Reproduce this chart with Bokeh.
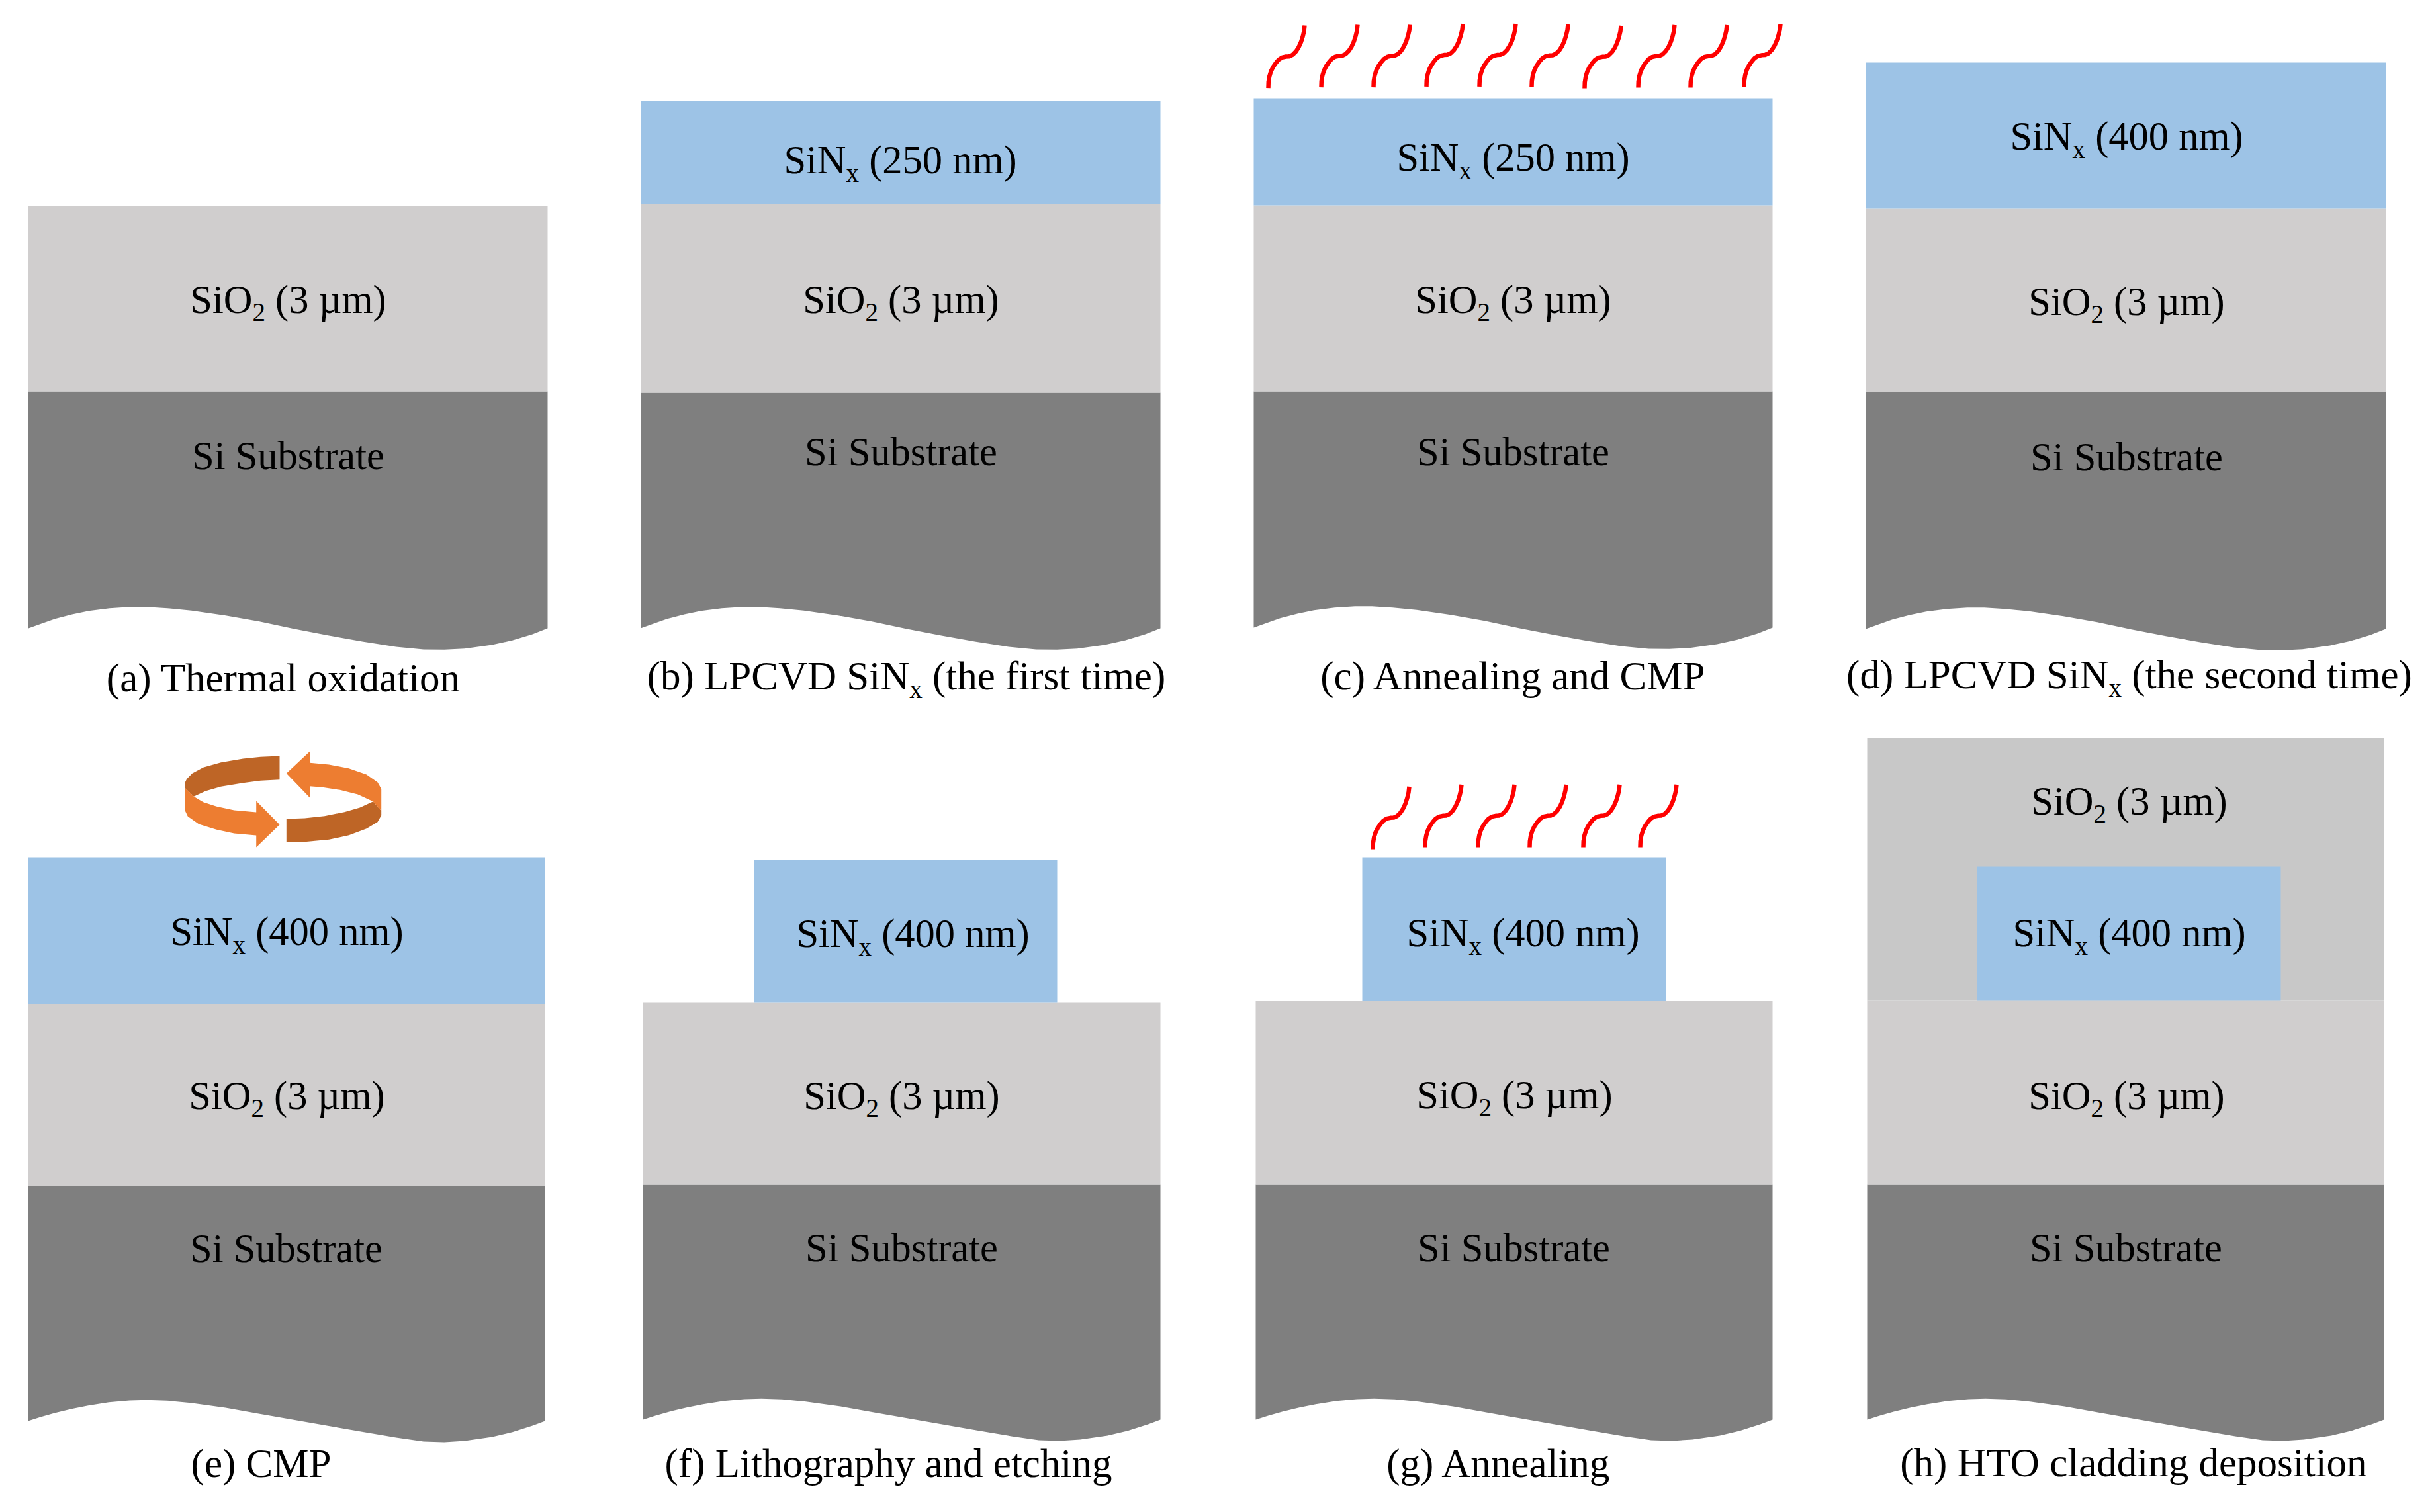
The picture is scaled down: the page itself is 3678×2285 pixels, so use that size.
from bokeh.plotting import figure
from bokeh.embed import file_html
from bokeh.resources import INLINE

panel_left = [42.5, 967.5, 1894, 2819, 42, 971, 1897, 2821]
panel_right = [827, 1753, 2678, 3604.5, 823, 1753, 2678, 3602]
sio2_top = [311, 308, 310, 315, 1517, 1515, 1512, 1511]
si_top = [591, 593, 591, 592, 1792, 1790, 1790, 1790]
wave_base = [949, 949, 948, 950, 2147, 2145, 2145, 2145]

# SiNx blocks (panels b..h)
sinx_left = [967.5, 1894, 2819, 42, 1139, 2058, 2987]
sinx_right = [1753, 2678, 3604.5, 823, 1597, 2517, 3446]
sinx_top = [152, 148, 94, 1295, 1299, 1295, 1309]
sinx_bottom = [308, 310, 315, 1517, 1515, 1512, 1511]

# HTO cladding (panel h)
clad_left, clad_right, clad_top, clad_bottom = [2821], [3602], [1115], [1511]

# bottom edge of the substrate: fraction across the panel, offset from the panel's edge height
wave_top_f = [0, .024, .051, .084, .116, .156, .195, .228, .268, .314, .380, .445, .511,
              .577, .643, .708, .761, .801, .840, .893, .932, .971, 1]
wave_top_d = [0, -6.7, -14.3, -21, -26.3, -30.3, -32.3, -32.3, -30.3, -26.7, -19.3, -10.3, .7,
              10.7, 20, 28, 32, 32.3, 30.7, 25, 18.3, 9, 0]
wave_bot_f = [0, .024, .051, .084, .116, .156, .196, .229, .269, .315, .382, .448, .514,
              .580, .646, .712, .765, .805, .845, .898, .937, .977, 1]
wave_bot_d = [0, -6, -12, -18.3, -23.3, -28.3, -31, -31.7, -30.7, -27.3, -20, -10.7, -1.7,
              7.3, 16.3, 25, 31, 32, 30, 24, 16.7, 6.7, 0]

# heat squiggles: bottom-left starts and one shape, relative to its start
heat_x = [1916, 1996, 2075, 2155, 2235, 2314, 2394, 2475, 2554, 2635,
          2074, 2153, 2233, 2311, 2392, 2478]
heat_y = [132.7, 131.7, 131.7, 130.3, 130.3, 131, 133, 132, 132, 130.5,
          1283, 1280, 1280, 1280, 1280, 1280]
heat_dx = [0, .3, 1.7, 4, 7.3, 11.7, 16, 20.7, 26.7, 31.7, 36.7, 41.7, 46, 49.3, 52, 54, 55]
heat_dy = [0, -9.3, -17.7, -25.3, -32, -38.3, -43.3, -46.3, -47.7, -48, -50.3, -55.3, -62,
           -69.3, -77.7, -86, -94.7]

# rotation arrows of panel e
arrow_dark_x = [[422, 393.3, 366.7, 333.3, 306.7, 290, 281.7, 279.3, 279.3, 292.3, 310, 333.3, 366.7, 393.3, 422],
                [432.3, 460, 490, 520, 543.3, 563.3, 575.7, 575.7, 570, 553.3, 526.7, 496.7, 460, 432.3]]
arrow_dark_y = [[1142, 1143.3, 1146, 1151.7, 1159.3, 1168.3, 1176.7, 1181.7, 1190.7, 1203.3, 1195, 1188.3, 1182.7, 1179.3, 1177.7],
                [1237, 1236, 1232.7, 1226.7, 1220, 1210.7, 1225, 1231.7, 1241.7, 1251.7, 1261.7, 1268.3, 1271.7, 1272]]
arrow_light_x = [[279.3, 279.3, 283.3, 300, 326.7, 353.3, 386.7, 386.7, 422, 386.7, 386.7, 353.3, 326.7, 306.7, 292.3],
                 [432.3, 467.7, 467.7, 496.7, 526.7, 553.3, 570, 575.7, 575.7, 563.3, 540, 513.3, 486.7, 467.7, 467.7]]
arrow_light_y = [[1190.7, 1225, 1233.3, 1245, 1253.3, 1259, 1262, 1280, 1245.7, 1210, 1227, 1224, 1218.3, 1211.7, 1203.3],
                 [1168.3, 1135, 1152.3, 1155, 1160.7, 1170, 1181.7, 1191.7, 1225, 1210.7, 1200, 1193.3, 1189.3, 1187.7, 1205]]

# labels: (text before subscript, subscript, text after), centre x, baseline y
sio2_x = [435, 1361, 2286, 3213, 433, 1362, 2288, 3213, 3217]
sio2_y = [471, 471, 471, 474, 1674, 1674, 1673, 1674, 1229]
si_x = [435, 1361, 2286, 3213, 432, 1362, 2287, 3212]
si_y = [707, 701, 701, 708.5, 1904.5, 1904, 1904, 1904]
sinx_labels = ["250 nm", "250 nm", "400 nm", "400 nm", "400 nm", "400 nm", "400 nm"]
sinx_x = [1360, 2286, 3213, 433, 1379, 2301, 3217]
sinx_y = [260, 256, 224, 1426, 1429, 1428, 1428]
captions = [("(a) Thermal oxidation", "", ""),
            ("(b) LPCVD SiN", "x", " (the first time)"),
            ("(c) Annealing and CMP", "", ""),
            ("(d) LPCVD SiN", "x", " (the second time)"),
            ("(e) CMP", "", ""),
            ("(f) Lithography and etching", "", ""),
            ("(g) Annealing", "", ""),
            ("(h) HTO cladding deposition", "", "")]
caption_x = [428, 1369, 2287, 3217, 394, 1342, 2265, 3224]
caption_y = [1043, 1040, 1040, 1038, 2230, 2230, 2230, 2229]

BLUE, LIGHT, DARK, CLAD = "#9DC3E6", "#D0CECE", "#7F7F7F", "#C8C8C8"
RED, ORANGE, BROWN = "#FF0000", "#ED7D31", "#BE6526"
FONT = "Liberation Serif"
SIZE, CAPTION_SIZE, SUB_SIZE, SUB_DROP = 60.5, 61, 39, 13
BASELINE_FIX = 0.31  # renderer draws "alphabetic" text this many ems low

# Times-metric advance widths, used only to lay out the pieces of a label
W = {' ': .25, '(': .333, ')': .333, '0': .5, '1': .5, '2': .5, '3': .5, '4': .5, '5': .5, 'A': .722,
     'C': .667, 'D': .722, 'H': .722, 'L': .611, 'M': .889, 'N': .722, 'O': .722, 'P': .556, 'S': .556,
     'T': .611, 'V': .722, 'a': .444, 'b': .5, 'c': .444, 'd': .5, 'e': .444, 'f': .333, 'g': .5, 'h': .5,
     'i': .278, 'l': .278, 'm': .778, 'n': .5, 'o': .5, 'p': .5, 'r': .333, 's': .389, 't': .278, 'u': .5,
     'x': .5, 'y': .5, '\u00b5': .576}


def width(s):
    return sum(W[c] for c in s)


p = figure(width=3660, height=2265, x_range=(0, 3660), y_range=(2265, 0),
           toolbar_location=None, tools="", output_backend="svg",
           x_axis_location=None, y_axis_location=None,
           min_border=0, outline_line_color=None, background_fill_color="white",
           border_fill_color="white")
p.grid.visible = False

# substrate
si_xs, si_ys = [], []
for i in range(8):
    f, d = (wave_top_f, wave_top_d) if i < 4 else (wave_bot_f, wave_bot_d)
    L, R = panel_left[i], panel_right[i]
    si_xs.append([L, R] + [L + v * (R - L) for v in reversed(f)])
    si_ys.append([si_top[i], si_top[i]] + [wave_base[i] + v for v in reversed(d)])
p.patches(si_xs, si_ys, fill_color=DARK, line_color=None)

# oxide, cladding, nitride
p.quad(left=panel_left, right=panel_right, top=sio2_top, bottom=si_top, fill_color=LIGHT, line_color=None)
p.quad(left=clad_left, right=clad_right, top=clad_top, bottom=clad_bottom, fill_color=CLAD, line_color=None)
p.quad(left=sinx_left, right=sinx_right, top=sinx_top, bottom=sinx_bottom, fill_color=BLUE, line_color=None)

# heat
p.multi_line([[x + d for d in heat_dx] for x in heat_x],
             [[y + d for d in heat_dy] for y in heat_y],
             line_color=RED, line_width=6.5, line_join="round")

# rotation arrows
p.patches(arrow_dark_x, arrow_dark_y, fill_color=BROWN, line_color=None)
p.patches(arrow_light_x, arrow_light_y, fill_color=ORANGE, line_color=None)

# text
tx, ty, tt, ts = [], [], [], []


def put(s, x, y, size):
    tx.append(x); ty.append(y - BASELINE_FIX * size); tt.append(s); ts.append(f"{size}px")


def label(pre, sub, post, cx, y, size=SIZE):
    total = width(pre) * size + width(sub) * SUB_SIZE + width(post) * size
    x = cx - total / 2
    put(pre, x, y, size)
    x += width(pre) * size
    if sub:
        put(sub, x, y + SUB_DROP, SUB_SIZE)
        x += width(sub) * SUB_SIZE
    if post:
        # a leading blank is collapsed in SVG text, so step over it
        lead = len(post) - len(post.lstrip())
        put(post.lstrip(), x + lead * W[' '] * size, y, size)


for x, y in zip(sio2_x, sio2_y):
    label("SiO", "2", " (3 \u00b5m)", x, y)
for x, y in zip(si_x, si_y):
    label("Si Substrate", "", "", x, y)
for t, x, y in zip(sinx_labels, sinx_x, sinx_y):
    label("SiN", "x", f" ({t})", x, y)
for (a, b, c), x, y in zip(captions, caption_x, caption_y):
    label(a, b, c, x, y, CAPTION_SIZE)

p.text(tx, ty, text=tt, text_font=FONT, text_font_size=ts, text_color="black",
       text_align="left", text_baseline="alphabetic")

open("out.html", "w").write(file_html(p, INLINE))
